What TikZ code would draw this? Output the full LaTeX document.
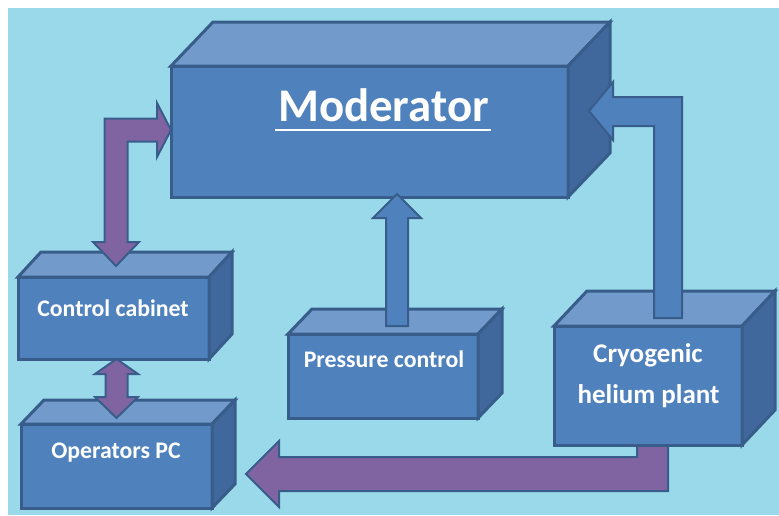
\documentclass[tikz,border=0pt]{standalone}
\usepackage{fontspec}
\setmainfont{Carlito}
\usetikzlibrary{calc}

\definecolor{skyback}{RGB}{153,217,234}
\definecolor{cubefront}{RGB}{79,129,189}
\definecolor{cubetop}{RGB}{114,155,203}
\definecolor{cubeside}{RGB}{64,104,156}
\definecolor{cubeedge}{RGB}{56,93,138}
\definecolor{linkpurple}{RGB}{128,100,162}

\begin{document}
\begin{tikzpicture}[x=1pt,y=-1pt,
   cube/.style={draw=cubeedge,line width=3pt,fill=cubefront,anchor=north west,inner sep=0pt,outer sep=0pt},
   topface/.style={draw=cubeedge,line width=3pt,fill=cubetop},
   sideface/.style={draw=cubeedge,line width=3pt,fill=cubeside},
   purplearrow/.style={draw=cubeedge,line width=2pt,fill=linkpurple},
   bluearrow/.style={draw=cubeedge,line width=2pt,fill=cubefront},
   boxtext/.style={text=white,font=\bfseries\fontsize{23.8}{28}\selectfont,inner sep=0pt,anchor=base}]
   \useasboundingbox (0,0) rectangle (779,515);
   \fill[white] (0,0) rectangle (779,515);
   \fill[skyback] (8,8) rectangle (779,515);

   % front faces
   \node[cube,minimum width=397pt,minimum height=131pt] (mod) at (171,66) {};
   \node[cube,minimum width=191pt,minimum height=82pt] (cc) at (18,277) {};
   \node[cube,minimum width=191pt,minimum height=84pt] (op) at (21,424) {};
   \node[cube,minimum width=190pt,minimum height=84pt] (pc) at (288,334) {};

   % plant to PC, behind the plant box
   \coordinate (toop) at ($(op.east)+(34,8)$);
   \draw[purplearrow] (toop) -- ++(33,-33) -- ++(0,16) -- ++(358,0) -- ++(0,-17) -- ++(31,0)
      -- ++(0,51) -- ++(-389,0) -- ++(0,16) -- cycle;
   \node[cube,minimum width=188pt,minimum height=119pt] (cryo) at (554,326) {};

   \draw[topface] (mod.north west) -- ++(42,-44) -- ($(mod.north east)+(42,-44)$) -- (mod.north east) -- cycle;
   \draw[sideface] (mod.north east) -- ++(42,-44) -- ($(mod.south east)+(42,-44)$) -- (mod.south east) -- cycle;
   \draw[topface] (cc.north west) -- ++(23,-25) -- ($(cc.north east)+(23,-25)$) -- (cc.north east) -- cycle;
   \draw[sideface] (cc.north east) -- ++(23,-25) -- ($(cc.south east)+(23,-25)$) -- (cc.south east) -- cycle;
   \draw[topface] (op.north west) -- ++(23,-24) -- ($(op.north east)+(23,-24)$) -- (op.north east) -- cycle;
   \draw[sideface] (op.north east) -- ++(23,-24) -- ($(op.south east)+(23,-24)$) -- (op.south east) -- cycle;
   \draw[topface] (pc.north west) -- ++(24,-25) -- ($(pc.north east)+(24,-25)$) -- (pc.north east) -- cycle;
   \draw[sideface] (pc.north east) -- ++(24,-25) -- ($(pc.south east)+(24,-25)$) -- (pc.south east) -- cycle;
   \draw[topface] (cryo.north west) -- ++(33,-35) -- ($(cryo.north east)+(33,-35)$) -- (cryo.north east) -- cycle;
   \draw[sideface] (cryo.north east) -- ++(33,-35) -- ($(cryo.south east)+(33,-35)$) -- (cryo.south east) -- cycle;

   \node[boxtext,font=\bfseries\fontsize{46.8}{54}\selectfont] (modtxt) at (383.5,121) {Moderator};
   \draw[white,line width=2.5pt] ([xshift=-3pt,yshift=-9pt]modtxt.base west) -- ([xshift=2pt,yshift=-9pt]modtxt.base east);
   \node[boxtext] (cctxt) at (113,316) {Control cabinet};
   \node[boxtext] (optxt) at (116,458) {Operators PC};
   \node[boxtext] (pctxt) at (384,367) {Pressure control};
   \node[boxtext,font=\bfseries\fontsize{27}{32}\selectfont] (cryotxt) at (648,362) {Cryogenic};
   \node[boxtext,font=\bfseries\fontsize{27}{32}\selectfont] (cryotxtb) at (648.5,403) {helium plant};

   % cabinet <-> moderator
   \coordinate (tomod) at ([yshift=-64pt]mod.north west);
   \draw[purplearrow] (tomod) -- ++(-14,-27) -- ++(0,15.5) -- ++(-52.5,0) -- ++(0,123.5) -- ++(-11.5,0)
      -- ++(23,24) -- ++(23,-24) -- ++(-11.5,0) -- ++(0,-100.5) -- ++(29.5,0) -- ++(0,15.5) -- cycle;
   % cabinet <-> PC
   \coordinate (tocc) at ([xshift=3pt]cc.south);
   \draw[purplearrow] (tocc) -- ++(21.5,15) -- ++(-10.5,0) -- ++(0,23) -- ++(10.5,0) -- ++(-21.5,21)
      -- ++(-21.5,-21) -- ++(10.5,0) -- ++(0,-23) -- ++(-10.5,0) -- cycle;
   % pressure control
   \coordinate (frompc) at ([xshift=27.5pt,yshift=3pt]mod.south);
   \draw[bluearrow] (frompc) -- ++(24,24) -- ++(-13,0) -- ++(0,108) -- ++(-22,0) -- ++(0,-108) -- ++(-13,0) -- cycle;
   % helium plant
   \coordinate (fromcryo) at ($(mod.north east)+(21,45)$);
   \draw[bluearrow] (fromcryo) -- ++(24,-29) -- ++(0,15) -- ++(69,0) -- ++(0,221) -- ++(-28,0)
      -- ++(0,-192) -- ++(-41,0) -- ++(0,14) -- cycle;
\end{tikzpicture}
\end{document}
